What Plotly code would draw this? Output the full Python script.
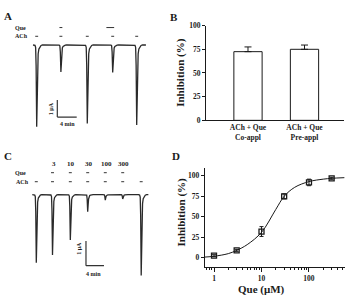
import plotly.graph_objects as go

W, H = 346, 295
FONT = "Liberation Serif"
INK = "#1a1a1a"

# ---------------- Data ----------------
# Panel A: ACh (± Que) evoked currents: peak time (min), peak current (uA)
A_peak_t = [1.38, 6.37, 11.81, 17.05, 22.0]
A_peak_I = [-4.77, -1.57, -4.58, -1.60, -4.67]
A_start_t, A_end_t = 0.62, 23.9
A_que_idx = [1, 3]          # spikes with Que
A_que_pre = [0.0, 1.0]      # pre-application extension (min)

# Panel C: concentration series
C_peak_t = [1.4, 5.0, 8.96, 12.82, 16.73, 20.6, 24.71]
C_peak_I = [-2.75, -2.44, -1.83, -0.69, -0.22, -0.17, -3.27]
C_start_t, C_end_t = 0.51, 26.3
C_conc_labels = ["3", "10", "30", "100", "300"]
C_que_idx = [1, 2, 3, 4, 5]

# Normalised current waveform (min offset, fraction of peak)
wave_dt = [-0.6, -0.35, -0.22, -0.12, 0.0, 0.1, 0.2, 0.3, 0.45, 0.65, 0.9, 1.2]
wave_f = [0, 0.005, 0.03, 0.25, 1.0, 0.6, 0.25, 0.11, 0.05, 0.02, 0.006, 0]

# Panel B
B_labels = ["ACh + Que<br>Co-appl", "ACh + Que<br>Pre-appl"]
B_values = [72.5, 75.0]
B_err = [5.0, 4.5]

# Panel D
D_conc = [1, 3, 10, 30, 100, 300]
D_inh = [2.5, 9, 32, 75, 92, 97]
D_err = [1.2, 1.2, 6, 3, 4, 1.2]
D_fit_x = [0.64, 1, 2, 3, 5, 10, 20, 30, 50, 100, 200, 300, 560]
D_fit_y = [0.8, 1.8, 5, 9, 16, 31, 59, 75, 86, 93, 96, 97, 97.8]

# scale bars (uA, min)
SB_I, SB_T = 1, 4


def build_trace(start, end, peak_t, peak_i):
    xs, ys = [start], [0.0]
    for t, amp in zip(peak_t, peak_i):
        for dt, f in zip(wave_dt, wave_f):
            xs.append(t + dt)
            ys.append(amp * f)
    xs.append(end)
    ys.append(0.0)
    return xs, ys


def px(x, y):
    return x / W, 1 - y / H


fig = go.Figure()

ax, ay = build_trace(A_start_t, A_end_t, A_peak_t, A_peak_I)
fig.add_trace(go.Scatter(x=ax, y=ay, mode="lines", line=dict(color="#2a2a2a", width=1.3),
                         xaxis="x", yaxis="y", hoverinfo="skip"))
cx, cy = build_trace(C_start_t, C_end_t, C_peak_t, C_peak_I)
fig.add_trace(go.Scatter(x=cx, y=cy, mode="lines", line=dict(color="#2a2a2a", width=1.3),
                         xaxis="x3", yaxis="y3", hoverinfo="skip"))

fig.add_trace(go.Bar(x=[0, 1], y=B_values, width=0.5,
                     marker=dict(color="white", line=dict(color=INK, width=1)),
                     error_y=dict(type="data", symmetric=False, array=B_err,
                                  arrayminus=[0, 0], color=INK, thickness=1, width=3.5),
                     xaxis="x2", yaxis="y2"))

fig.add_trace(go.Scatter(x=D_fit_x, y=D_fit_y, mode="lines", line=dict(color=INK, width=1, shape="spline"),
                         xaxis="x4", yaxis="y4"))
fig.add_trace(go.Scatter(x=D_conc, y=D_inh, mode="markers",
                         marker=dict(symbol="square-open", size=5, color=INK, line=dict(width=1.3)),
                         error_y=dict(type="data", array=D_err, color=INK, thickness=1, width=2),
                         xaxis="x4", yaxis="y4"))

shapes = []
annotations = []

def ann(text, x, y, size, angle=0, bold=True):
    X, Y = px(x, y)
    annotations.append(dict(text=text, x=X, y=Y, xref="paper", yref="paper", showarrow=False,
                            xanchor="center", yanchor="middle", textangle=angle,
                            font=dict(family=FONT, size=size, color=INK,
                                      weight="bold" if bold else "normal")))

def dash(xref, t0, t1, yp):
    shapes.append(dict(type="line", xref=xref, yref="paper", x0=t0, x1=t1,
                       y0=1 - yp / H, y1=1 - yp / H, line=dict(color="#333", width=1)))

# A application marks
for t in A_peak_t:
    dash("x", t - 0.3, t + 0.3, 33.3)
for i, pre in zip(A_que_idx, A_que_pre):
    dash("x", A_peak_t[i] - 0.3 - pre, A_peak_t[i] + 0.3, 24.3)
ann("Que", 20, 24.3, 6)
ann("ACh", 21, 33.3, 6)

# C application marks
for t in C_peak_t:
    dash("x3", t - 0.33, t + 0.33, 183.3)
for i, lab in zip(C_que_idx, C_conc_labels):
    dash("x3", C_peak_t[i] - 0.33, C_peak_t[i] + 0.33, 174)
    X = (30 + C_peak_t[i] * 4.5)
    ann(lab, X + 1, 165, 7)
ann("Que", 20, 174, 6)
ann("ACh", 22, 183.3, 6)

def scalebar(xr, yr, t0, i0):
    shapes.append(dict(type="line", xref=xr, yref=yr, x0=t0, x1=t0, y0=i0, y1=i0 + SB_I,
                       line=dict(color="#333", width=1.2)))
    shapes.append(dict(type="line", xref=xr, yref=yr, x0=t0, x1=t0 + SB_T, y0=i0, y1=i0,
                       line=dict(color="#333", width=1.2)))

scalebar("x", "y", 5.63, -4.20)
scalebar("x3", "y3", 12.44, -2.87)
ann("1 μA", 51, 108.5, 6, angle=-90)
ann("4 min", 67, 123.5, 6)
ann("1 μA", 79, 252.5, 6, angle=-90)
ann("4 min", 94, 278, 6)

# panel letters
ann("A", 8, 12, 11)
ann("B", 174, 13, 11)
ann("C", 8, 157, 11)
ann("D", 175.5, 157, 11)

# axis titles
ann("Inhibition (%)", 181, 71, 11, angle=-90)
ann("Inhibition (%)", 181, 215, 11, angle=-90)
ann("Que (μM)", 261, 294, 11)

tickfont = dict(family=FONT, size=7.5, color=INK, weight="bold")
axis_common = dict(showline=True, linecolor=INK, linewidth=1, showgrid=False, zeroline=False,
                   ticks="outside", ticklen=3, tickcolor=INK, tickwidth=1, tickfont=tickfont)

minor_vals = [0.7, 0.8, 0.9] + [k for k in range(2, 10)] + [10 * k for k in range(2, 10)] + [100 * k for k in range(2, 6)]

fig.update_layout(
    width=W, height=H, margin=dict(l=0, r=0, t=0, b=0),
    paper_bgcolor="white", plot_bgcolor="white", showlegend=False,
    xaxis=dict(domain=[30 / W, 150 / W], range=[0, 120 / 4.85], visible=False, anchor="y"),
    yaxis=dict(domain=[1 - 135 / H, 1 - 20 / H], range=[-5.24, 1.26], visible=False, anchor="x"),
    xaxis3=dict(domain=[30 / W, 150 / W], range=[0, 120 / 4.5], visible=False, anchor="y3"),
    yaxis3=dict(domain=[1 - 290 / H, 1 - 158 / H], range=[-3.659, 1.518], visible=False, anchor="x3"),
    xaxis2=dict(domain=[206 / W, 344 / W], range=[-0.743, 1.699], anchor="y2",
                tickvals=[0, 1], ticktext=B_labels, **{**axis_common, "ticks": "", "ticklen": 2}),
    yaxis2=dict(domain=[1 - 120 / H, 1 - 22.3 / H], range=[0, 100], anchor="x2",
                tickvals=[0, 25, 50, 75, 100], **axis_common),
    xaxis4=dict(domain=[204.7 / W, 344.7 / W], type="log", range=[-0.196, 2.752], anchor="y4",
                tickvals=[1, 10, 100], ticktext=["1", "10", "100"], **{**axis_common, "ticklen": 4},
                minor=dict(tickmode="array", tickvals=minor_vals, ticks="outside", ticklen=2,
                           tickcolor=INK, tickwidth=1, showgrid=False)),
    yaxis4=dict(domain=[1 - 271 / H, 1 - 169 / H], range=[-11, 109.8], anchor="x4",
                tickvals=[0, 25, 50, 75, 100], **axis_common),
    shapes=shapes, annotations=annotations,
)

fig.write_html("out.html")
